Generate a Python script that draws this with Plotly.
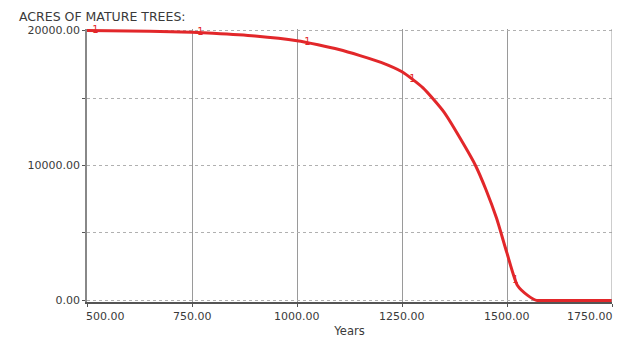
import plotly.graph_objects as go

# years and acres
years = [500, 600, 700, 750, 800, 900, 1000, 1050, 1100, 1150, 1200, 1250, 1300,
         1350, 1400, 1425, 1450, 1475, 1500, 1525, 1550, 1570, 1600, 1700, 1750]
acres = [20000, 19980, 19920, 19870, 19800, 19600, 19250, 18950, 18600, 18150,
         17650, 16950, 15750, 13950, 11400, 10000, 8200, 6100, 3500, 1100, 350,
         0, 0, 0, 0]

# series number labels ("1") drawn along the curve
label_years = [520, 770, 1025, 1275, 1520]
label_acres = [20000, 19850, 19100, 16400, 1450]

x_ticks = [500, 750, 1000, 1250, 1500, 1750]
x_labels = ["500.00", "750.00", "1000.00", "1250.00", "1500.00", "1750.00"]
y_ticks = [0, 5000, 10000, 15000, 20000]
y_labels = ["0.00", "", "10000.00", "", "20000.00"]

red = "#e2272a"
fam = "DejaVu Sans, Arial, sans-serif"
grey = "#3a3a3a"
font = dict(family=fam, size=11, color=grey)

fig = go.Figure()
fig.add_trace(go.Scatter(x=years, y=acres, mode="lines",
                         line=dict(color=red, width=3, shape="spline", smoothing=0.6),
                         showlegend=False, hoverinfo="skip"))
fig.add_trace(go.Scatter(x=label_years, y=label_acres, mode="text", text=["1"] * 5,
                         textfont=dict(color=red, size=10, family=fam),
                         showlegend=False, cliponaxis=False))

# x tick labels as annotations: first one starts at the axis, last one ends at it
annots = [dict(text="ACRES OF MATURE TREES:", x=(17 - 87) / 525, y=1.0456,
               xref="paper", yref="paper", showarrow=False,
               xanchor="left", yanchor="middle",
               font=dict(size=12.5, family=fam, color=grey))]
for i, (xv, lab) in enumerate(zip(x_ticks, x_labels)):
    anchor = "center"
    shift = 0
    if i == 0:
        anchor, shift = "left", -3
    elif i == len(x_ticks) - 1:
        anchor, shift = "right", 3
    annots.append(dict(text=lab, x=xv, y=0, xref="x", yref="paper", showarrow=False,
                       xanchor=anchor, yanchor="middle", xshift=shift, yshift=-14.5,
                       font=dict(size=11, family=fam, color=grey)))

# page body adds 8px on the left/top, so the figure is 8px smaller
fig.update_layout(
    width=623, height=330,
    margin=dict(l=79, r=19, t=21.4, b=36.4, autoexpand=False),
    paper_bgcolor="white", plot_bgcolor="white",
    font=font,
    annotations=annots,
)

fig.update_xaxes(range=[500, 1750], tickvals=x_ticks, showticklabels=False,
                 showgrid=True, gridcolor="#9a9a9a", gridwidth=1,
                 showline=True, linecolor="#555555", linewidth=1.5,
                 ticks="outside", ticklen=3, tickcolor="#555555",
                 title=dict(text="Years", font=dict(size=11.5), standoff=21),
                 zeroline=False, automargin=False)
fig.update_yaxes(range=[-120, 20120], tickvals=y_ticks, ticktext=y_labels,
                 showgrid=True, gridcolor="#b0b0b0", griddash="dot", gridwidth=1,
                 showline=True, linecolor="#888888", linewidth=1.5,
                 ticks="outside", ticklen=3, tickcolor="#555555",
                 zeroline=False, automargin=False)
# right border at 1750
fig.add_shape(type="line", x0=1750, x1=1750, y0=-120, y1=20120, xref="x", yref="y",
              line=dict(color="#9a9a9a", width=1))

fig.write_html("out.html")
